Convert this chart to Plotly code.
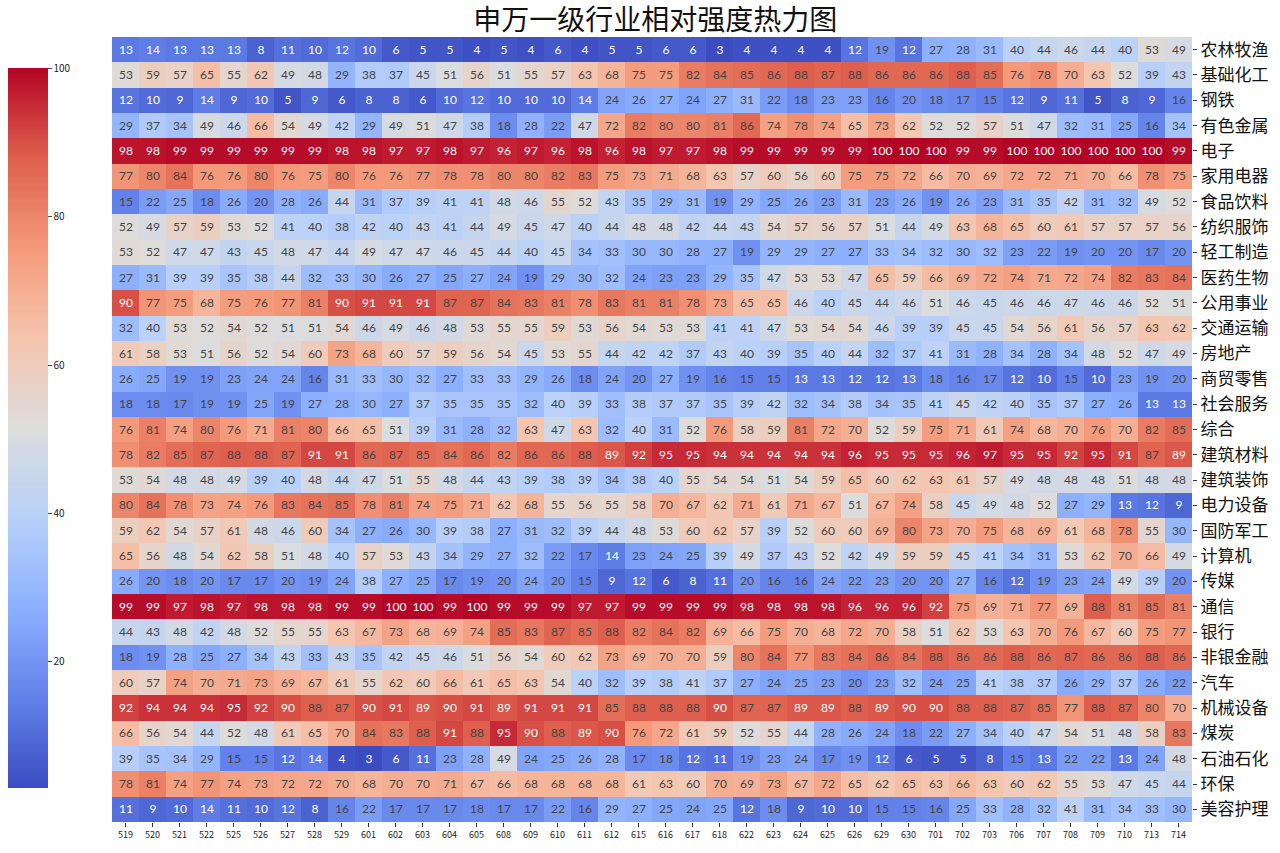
import plotly.graph_objects as go

industries = ["农林牧渔", "基础化工", "钢铁", "有色金属", "电子", "家用电器", "食品饮料", "纺织服饰",
              "轻工制造", "医药生物", "公用事业", "交通运输", "房地产", "商贸零售", "社会服务", "综合",
              "建筑材料", "建筑装饰", "电力设备", "国防军工", "计算机", "传媒", "通信", "银行",
              "非银金融", "汽车", "机械设备", "煤炭", "石油石化", "环保", "美容护理"]

dates = ["519", "520", "521", "522", "525", "526", "527", "528", "529", "601", "602", "603", "604",
         "605", "608", "609", "610", "611", "612", "615", "616", "617", "618", "622", "623", "624",
         "625", "626", "629", "630", "701", "702", "703", "706", "707", "708", "709", "710", "713", "714"]

agri = [13, 14, 13, 13, 13, 8, 11, 10, 12, 10, 6, 5, 5, 4, 5, 4, 6, 4, 5, 5,
        6, 6, 3, 4, 4, 4, 4, 12, 19, 12, 27, 28, 31, 40, 44, 46, 44, 40, 53, 49]
chem = [53, 59, 57, 65, 55, 62, 49, 48, 29, 38, 37, 45, 51, 56, 51, 55, 57, 63, 68, 75,
        75, 82, 84, 85, 86, 88, 87, 88, 86, 86, 86, 88, 85, 76, 78, 70, 63, 52, 39, 43]
steel = [12, 10, 9, 14, 9, 10, 5, 9, 6, 8, 8, 6, 10, 12, 10, 10, 10, 14, 24, 26,
         27, 24, 27, 31, 22, 18, 23, 23, 16, 20, 18, 17, 15, 12, 9, 11, 5, 8, 9, 16]
metal = [29, 37, 34, 49, 46, 66, 54, 49, 42, 29, 49, 51, 47, 38, 18, 28, 22, 47, 72, 82,
         80, 80, 81, 86, 74, 78, 74, 65, 73, 62, 52, 52, 57, 51, 47, 32, 31, 25, 16, 34]
elec = [98, 98, 99, 99, 99, 99, 99, 99, 98, 98, 97, 97, 98, 97, 96, 97, 96, 98, 96, 98,
        97, 97, 98, 99, 99, 99, 99, 99, 100, 100, 100, 99, 99, 100, 100, 100, 100, 100, 100, 99]
appl = [77, 80, 84, 76, 76, 80, 76, 75, 80, 76, 76, 77, 78, 78, 80, 80, 82, 83, 75, 73,
        71, 68, 63, 57, 60, 56, 60, 75, 75, 72, 66, 70, 69, 72, 72, 71, 70, 66, 78, 75]
food = [15, 22, 25, 18, 26, 20, 28, 26, 44, 31, 37, 39, 41, 41, 48, 46, 55, 52, 43, 35,
        29, 31, 19, 29, 25, 26, 23, 31, 23, 26, 19, 26, 23, 31, 35, 42, 31, 32, 49, 52]
text = [52, 49, 57, 59, 53, 52, 41, 40, 38, 42, 40, 43, 41, 44, 49, 45, 47, 40, 44, 48,
        48, 42, 44, 43, 54, 57, 56, 57, 51, 44, 49, 63, 68, 65, 60, 61, 57, 57, 57, 56]
light = [53, 52, 47, 47, 43, 45, 48, 47, 44, 49, 47, 47, 46, 45, 44, 40, 45, 34, 33, 30,
         30, 28, 27, 19, 29, 29, 27, 27, 33, 34, 32, 30, 32, 23, 22, 19, 20, 20, 17, 20]
pharma = [27, 31, 39, 39, 35, 38, 44, 32, 33, 30, 26, 27, 25, 27, 24, 19, 29, 30, 32, 24,
          23, 23, 29, 35, 47, 53, 53, 47, 65, 59, 66, 69, 72, 74, 71, 72, 74, 82, 83, 84]
util = [90, 77, 75, 68, 75, 76, 77, 81, 90, 91, 91, 91, 87, 87, 84, 83, 81, 78, 83, 81,
        81, 78, 73, 65, 65, 46, 40, 45, 44, 46, 51, 46, 45, 46, 46, 47, 46, 46, 52, 51]
trans = [32, 40, 53, 52, 54, 52, 51, 51, 54, 46, 49, 46, 48, 53, 55, 55, 59, 53, 56, 54,
         53, 53, 41, 41, 47, 53, 54, 54, 46, 39, 39, 45, 45, 54, 56, 61, 56, 57, 63, 62]
realty = [61, 58, 53, 51, 56, 52, 54, 60, 73, 68, 60, 57, 59, 56, 54, 45, 53, 55, 44, 42,
          42, 37, 43, 40, 39, 35, 40, 44, 32, 37, 41, 31, 28, 34, 28, 34, 48, 52, 47, 49]
retail = [26, 25, 19, 19, 23, 24, 24, 16, 31, 33, 30, 32, 27, 33, 33, 29, 26, 18, 24, 20,
          27, 19, 16, 15, 15, 13, 13, 12, 12, 13, 18, 16, 17, 12, 10, 15, 10, 23, 19, 20]
service = [18, 18, 17, 19, 19, 25, 19, 27, 28, 30, 27, 37, 35, 35, 35, 32, 40, 39, 33, 38,
           37, 37, 35, 39, 42, 32, 34, 38, 34, 35, 41, 45, 42, 40, 35, 37, 27, 26, 13, 13]
misc = [76, 81, 74, 80, 76, 71, 81, 80, 66, 65, 51, 39, 31, 28, 32, 63, 47, 63, 32, 40,
        31, 52, 76, 58, 59, 81, 72, 70, 52, 59, 75, 71, 61, 74, 68, 70, 76, 70, 82, 85]
bmat = [78, 82, 85, 87, 88, 88, 87, 91, 91, 86, 87, 85, 84, 86, 82, 86, 86, 88, 89, 92,
        95, 95, 94, 94, 94, 94, 94, 96, 95, 95, 95, 96, 97, 95, 95, 92, 95, 91, 87, 89]
bdec = [53, 54, 48, 48, 49, 39, 40, 48, 44, 47, 51, 55, 48, 44, 43, 39, 38, 39, 34, 38,
        40, 55, 54, 54, 51, 54, 59, 65, 60, 62, 63, 61, 57, 49, 48, 48, 48, 51, 48, 48]
power = [80, 84, 78, 73, 74, 76, 83, 84, 85, 78, 81, 74, 75, 71, 62, 68, 55, 56, 55, 58,
         70, 67, 62, 71, 61, 71, 67, 51, 67, 74, 58, 45, 49, 48, 52, 27, 29, 13, 12, 9]
defense = [59, 62, 54, 57, 61, 48, 46, 60, 34, 27, 26, 30, 39, 38, 27, 31, 32, 39, 44, 48,
           53, 60, 62, 57, 39, 52, 60, 60, 69, 80, 73, 70, 75, 68, 69, 61, 68, 78, 55, 30]
comp = [65, 56, 48, 54, 62, 58, 51, 48, 40, 57, 53, 43, 34, 29, 27, 32, 22, 17, 14, 23,
        24, 25, 39, 49, 37, 43, 52, 42, 49, 59, 59, 45, 41, 34, 31, 53, 62, 70, 66, 49]
media = [26, 20, 18, 20, 17, 17, 20, 19, 24, 38, 27, 25, 17, 19, 20, 24, 20, 15, 9, 12,
         6, 8, 11, 20, 16, 16, 24, 22, 23, 20, 20, 27, 16, 12, 19, 23, 24, 49, 39, 20]
telecom = [99, 99, 97, 98, 97, 98, 98, 98, 99, 99, 100, 100, 99, 100, 99, 99, 99, 97, 97, 99,
           99, 99, 99, 98, 98, 98, 98, 96, 96, 96, 92, 75, 69, 71, 77, 69, 88, 81, 85, 81]
bank = [44, 43, 48, 42, 48, 52, 55, 55, 63, 67, 73, 68, 69, 74, 85, 83, 87, 85, 88, 82,
        84, 82, 69, 66, 75, 70, 68, 72, 70, 58, 51, 62, 53, 63, 70, 76, 67, 60, 75, 77]
nonbank = [18, 19, 28, 25, 27, 34, 43, 33, 43, 35, 42, 45, 46, 51, 56, 54, 60, 62, 73, 69,
           70, 70, 59, 80, 84, 77, 83, 84, 86, 84, 88, 86, 86, 88, 86, 87, 86, 86, 88, 86]
auto = [60, 57, 74, 70, 71, 73, 69, 67, 61, 55, 62, 60, 66, 61, 65, 63, 54, 40, 32, 39,
        38, 41, 37, 27, 24, 25, 23, 20, 23, 32, 24, 25, 41, 38, 37, 26, 29, 37, 26, 22]
mach = [92, 94, 94, 94, 95, 92, 90, 88, 87, 90, 91, 89, 90, 91, 89, 91, 91, 91, 85, 88,
        88, 88, 90, 87, 87, 89, 89, 88, 89, 90, 90, 88, 88, 87, 85, 77, 88, 87, 80, 70]
coal = [66, 56, 54, 44, 52, 48, 61, 65, 70, 84, 83, 88, 91, 88, 95, 90, 88, 89, 90, 76,
        72, 61, 59, 52, 55, 44, 28, 26, 24, 18, 22, 27, 34, 40, 47, 54, 51, 48, 58, 83]
petro = [39, 35, 34, 29, 15, 15, 12, 14, 4, 3, 6, 11, 23, 28, 49, 24, 25, 26, 28, 17,
         18, 12, 11, 19, 23, 24, 17, 19, 12, 6, 5, 5, 8, 15, 13, 22, 22, 13, 24, 48]
envir = [78, 81, 74, 77, 74, 73, 72, 72, 70, 68, 70, 70, 71, 67, 66, 68, 68, 68, 68, 61,
         63, 60, 70, 69, 73, 67, 72, 65, 62, 65, 63, 66, 63, 60, 62, 55, 53, 47, 45, 44]
beauty = [11, 9, 10, 14, 11, 10, 12, 8, 16, 22, 17, 17, 17, 18, 17, 17, 22, 16, 29, 27,
          25, 24, 25, 12, 18, 9, 10, 10, 15, 15, 16, 25, 33, 28, 32, 41, 31, 34, 33, 30]

z = [agri, chem, steel, metal, elec, appl, food, text, light, pharma, util, trans, realty,
     retail, service, misc, bmat, bdec, power, defense, comp, media, telecom, bank, nonbank,
     auto, mach, coal, petro, envir, beauty]

coolwarm = [
    [0.0, "rgb(59,76,192)"], [0.125, "rgb(98,130,234)"], [0.25, "rgb(141,176,254)"],
    [0.375, "rgb(184,208,249)"], [0.5, "rgb(221,221,221)"], [0.625, "rgb(245,196,173)"],
    [0.75, "rgb(244,154,123)"], [0.875, "rgb(222,96,77)"], [1.0, "rgb(180,4,38)"],
]

fig = go.Figure(go.Heatmap(
    z=z, x=dates, y=industries,
    colorscale=coolwarm, zmin=3, zmax=100,
    texttemplate="%{z}", textfont=dict(size=12, family="Lato, sans-serif"),
    xgap=0, ygap=0,
    colorbar=dict(
        xref="container", x=8 / 1280, xanchor="left", xpad=0,
        yref="container", y=(853 - 74) / 853, yanchor="top", ypad=0,
        lenmode="pixels", len=720, thickness=40, outlinewidth=0,
        tickvals=[20, 40, 60, 80, 100], ticks="outside", ticklen=4,
        tickfont=dict(size=10, color="#222"),
    ),
))

fig.update_layout(
    width=1280, height=853,
    margin=dict(l=112, r=85, t=37, b=23),
    paper_bgcolor="white", plot_bgcolor="white",
    font=dict(family="Noto Sans CJK SC, sans-serif", color="#111"),
    title=dict(text="申万一级行业相对强度热力图", x=0.512, xanchor="center",
               y=1 - 20 / 853, yanchor="middle",
               font=dict(size=28, color="#111", family="Noto Sans CJK SC, sans-serif")),
)
fig.update_xaxes(type="category", tickfont=dict(size=9, color="#222"), ticks="outside",
                 ticklen=4, tickcolor="#333", showgrid=False, zeroline=False, tickangle=0)
fig.update_yaxes(type="category", autorange="reversed", side="right",
                 tickfont=dict(size=17, color="#111"), ticks="outside", ticklen=4,
                 tickcolor="#333", showgrid=False, zeroline=False)

fig.write_html("out.html")
